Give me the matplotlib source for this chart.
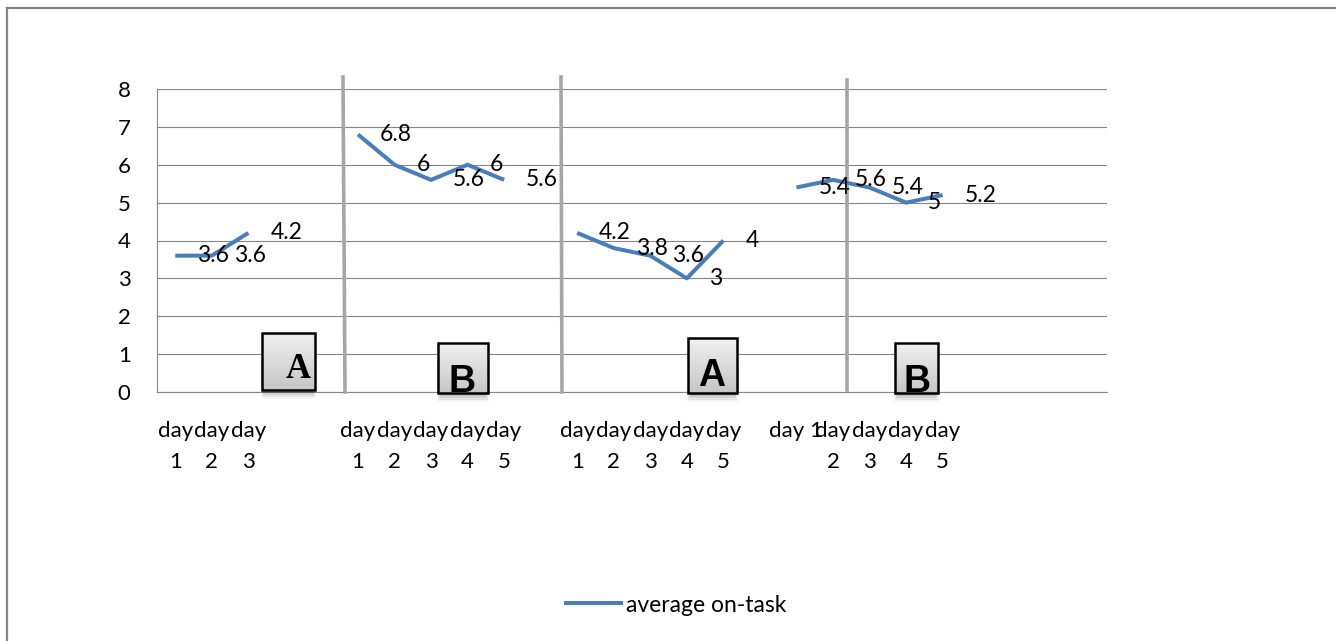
import numpy as np
import matplotlib
matplotlib.use("Agg")
import matplotlib.pyplot as plt
from matplotlib.patches import Rectangle
from matplotlib.lines import Line2D
from matplotlib.colors import LinearSegmentedColormap

plt.rcParams['font.family'] = ['Lato', 'DejaVu Sans']

# ---- data ----
categories = ['day\n1', 'day\n2', 'day\n3', '', '',
              'day\n1', 'day\n2', 'day\n3', 'day\n4', 'day\n5', '',
              'day\n1', 'day\n2', 'day\n3', 'day\n4', 'day\n5', '',
              'day 1', 'day\n2', 'day\n3', 'day\n4', 'day\n5', '', '', '', '']
values = [3.6, 3.6, 4.2, np.nan, np.nan,
          6.8, 6, 5.6, 6, 5.6, np.nan,
          4.2, 3.8, 3.6, 3, 4, np.nan,
          5.4, 5.6, 5.4, 5, 5.2, np.nan, np.nan, np.nan, np.nan]
series_name = 'average on-task'
phase_labels = ['A', 'B', 'A', 'B']
yticks = [0, 1, 2, 3, 4, 5, 6, 7, 8]

W, H, DPI = 1336, 641, 100
fig = plt.figure(figsize=(W / DPI, H / DPI), dpi=DPI)
ax = fig.add_axes([157 / W, 1 - 392 / H, (1107 - 157) / W, (392 - 89) / H])

grid_c = '#868686'
line_c = '#4A7EBB'
FS = 16

x = np.arange(len(categories))
ax.plot(x, values, color=line_c, lw=2.9, solid_joinstyle='round',
        solid_capstyle='butt', zorder=4, label=series_name)

for xi, v in zip(x, values):
    if not np.isnan(v):
        ax.annotate(f'{v:g}', (xi, v), xytext=(22, 0), textcoords='offset pixels',
                    ha='left', va='center', fontsize=16.5, color='black', zorder=6)

ax.set_xlim(-0.5, len(categories) - 0.5)
ax.set_ylim(0, 8)
ax.set_yticks(yticks)
ax.set_yticklabels([str(t) for t in yticks], fontsize=FS)
ax.set_xticks(x)
ax.set_xticklabels(categories, fontsize=FS, linespacing=1.65)
ax.tick_params(axis='both', length=0)
ax.tick_params(axis='y', pad=19)
ax.tick_params(axis='x', pad=21)
ax.yaxis.grid(True, color=grid_c, lw=0.8)
ax.set_axisbelow(True)
for s in ['top', 'right']:
    ax.spines[s].set_visible(False)
for s in ['left', 'bottom']:
    ax.spines[s].set_color(grid_c)
    ax.spines[s].set_linewidth(0.8)


def px2data(px, py):
    return (px - 157) / 36.54 - 0.5, (392 - py) / 37.875


# separator lines (drawn shapes)
for (pxt, pyt, pxb, pyb) in [(343, 77, 345, 392), (561, 77, 562, 392), (847, 80, 847, 390)]:
    x0, y0 = px2data(pxt, pyt)
    x1, y1 = px2data(pxb, pyb)
    ax.plot([x0, x1], [y0, y1], color='#A6A6A6', lw=2.6, clip_on=False, zorder=3)

# phase boxes
cmap = LinearSegmentedColormap.from_list('g', ['#f0f0f0', '#c6c6c6'])
grad = np.linspace(0, 1, 64).reshape(-1, 1)
boxes = [((262, 333, 315, 390), (298, 369), 'serif', 25),
         ((438, 343, 488, 393), (462, 382), 'sans', 27),
         ((688, 338, 737, 393), (712, 376), 'sans', 27),
         ((895, 343, 938, 393), (917, 382), 'sans', 27)]
for lab, ((l, t, r, b), (cx, cy), fam, fs) in zip(phase_labels, boxes):
    x0, y1 = px2data(l, t)
    x1, y0 = px2data(r, b)
    # shadow
    for k, a in enumerate([0.10, 0.08, 0.06, 0.04]):
        sx0, sy1 = px2data(l + 2 - k, b - 6)
        sx1, sy0 = px2data(r - 2 + k, b + 3 + 2 * k)
        ax.add_patch(Rectangle((sx0, sy0), sx1 - sx0, sy1 - sy0, facecolor='black',
                               edgecolor='none', alpha=a, clip_on=False, zorder=6))
    ax.imshow(grad, extent=[x0, x1, y0, y1], cmap=cmap, aspect='auto',
              origin='upper', zorder=7, clip_on=False)
    rect = Rectangle((x0, y0), x1 - x0, y1 - y0, facecolor='none', edgecolor='black',
                     lw=1.8, clip_on=False, zorder=9)
    ax.add_patch(rect)
    tx, ty = px2data(cx, cy)
    family = ['Liberation Serif'] if fam == 'serif' else ['Liberation Sans']
    txt = ax.text(tx, ty, lab, fontsize=fs, fontweight='bold', family=family,
                  ha='center', va='center', zorder=8)
    clip_rect = Rectangle((x0, y0), x1 - x0, y1 - y0, transform=ax.transData)
    txt.set_clip_path(clip_rect)

ax.set_xlim(-0.5, len(categories) - 0.5)
ax.set_ylim(0, 8)

# legend
handles = [Line2D([0], [0], color=line_c, lw=2.9)]
fig.legend(handles, [series_name], loc='center', bbox_to_anchor=(676 / W, 1 - 605 / H),
           frameon=False, fontsize=16.5, handlelength=2.4, handletextpad=0.2)

# outer border (top & left)
fig.add_artist(Line2D([7 / W, 7 / W], [0, 1 - 8 / H], color=grid_c, lw=1.6,
                      transform=fig.transFigure))
fig.add_artist(Line2D([7 / W, 1], [1 - 8 / H, 1 - 8 / H], color=grid_c, lw=1.6,
                      transform=fig.transFigure))

fig.savefig('out.png', dpi=DPI, facecolor='white')
